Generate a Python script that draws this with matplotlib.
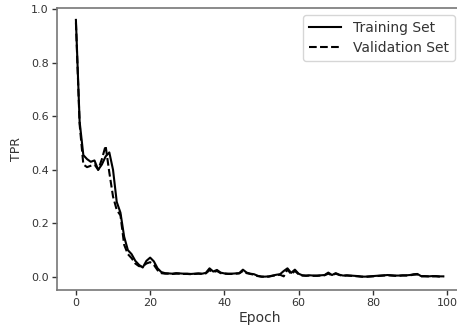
import numpy as np
from matplotlib import pyplot as plt

# TPR per epoch
train_tpr = [0.96, 0.58, 0.455, 0.44, 0.43, 0.435, 0.40, 0.42, 0.45, 0.465,
             0.40, 0.28, 0.24, 0.15, 0.10, 0.085, 0.06, 0.045, 0.035, 0.06,
             0.072, 0.058, 0.032, 0.018, 0.014, 0.013, 0.012, 0.014, 0.013, 0.012,
             0.012, 0.011, 0.012, 0.013, 0.012, 0.015, 0.032, 0.02, 0.026, 0.016,
             0.013, 0.012, 0.012, 0.013, 0.014, 0.027, 0.016, 0.012, 0.010, 0.004,
             0.001, 0.001, 0.002, 0.005, 0.008, 0.010, 0.022, 0.032, 0.015, 0.027,
             0.012, 0.006, 0.005, 0.006, 0.005, 0.005, 0.006, 0.007, 0.016, 0.007,
             0.014, 0.008, 0.005, 0.006, 0.005, 0.004, 0.003, 0.001, 0.001, 0.002,
             0.003, 0.004, 0.005, 0.006, 0.007, 0.006, 0.005, 0.005, 0.006, 0.006,
             0.007, 0.010, 0.011, 0.003, 0.003, 0.002, 0.003, 0.003, 0.002, 0.002]
val_tpr = [0.95, 0.57, 0.42, 0.41, 0.415, 0.42, 0.40, 0.44, 0.49, 0.39,
           0.30, 0.25, 0.23, 0.12, 0.085, 0.07, 0.05, 0.04, 0.04, 0.05,
           0.055, 0.045, 0.025, 0.014, 0.012, 0.012, 0.011, 0.012, 0.012, 0.011,
           0.011, 0.010, 0.011, 0.012, 0.011, 0.013, 0.025, 0.018, 0.022, 0.014,
           0.012, 0.011, 0.011, 0.012, 0.013, 0.022, 0.014, 0.011, 0.008, 0.003,
           0.001, 0.000, 0.001, 0.004, 0.006, 0.008, 0.002, 0.028, 0.010, 0.022,
           0.010, 0.005, 0.004, 0.005, 0.004, 0.004, 0.005, 0.006, 0.012, 0.006,
           0.012, 0.007, 0.004, 0.005, 0.004, 0.003, 0.002, 0.001, 0.000, 0.001,
           0.002, 0.003, 0.004, 0.005, 0.006, 0.005, 0.004, 0.004, 0.005, 0.005,
           0.006, 0.008, 0.009, 0.002, 0.002, 0.002, 0.002, 0.002, 0.001, 0.001]
epochs = np.arange(len(train_tpr))

text_color = '#333333'
spine_color = '#777777'

fig = plt.figure(figsize=(4.57, 3.29), dpi=100)
# the reference is cropped on the right, so the axes run past the edge
ax = fig.add_axes([0.1247, 0.1185, 0.886, 0.856])

ax.plot(epochs, train_tpr, color='black', linewidth=1.5, label='Training Set')
ax.plot(epochs, val_tpr, color='black', linewidth=1.5, linestyle='--', label='Validation Set')

ax.set_ylim(-0.049, 1.003)
ax.set_xlim(-5.1, 104)
ax.set_xticks([0, 20, 40, 60, 80, 100])
ax.set_yticks([0.0, 0.2, 0.4, 0.6, 0.8, 1.0])

ax.set_xlabel('Epoch', fontsize=10, color=text_color, labelpad=2)
ax.set_ylabel('TPR', fontsize=9, color=text_color, labelpad=6)
ax.tick_params(labelsize=8, colors=text_color, length=3.5, width=1, pad=2.5)
for side in ax.spines.values():
    side.set_color(spine_color)
    side.set_linewidth(1.2)
ax.spines['right'].set_visible(False)

leg = ax.legend(loc='upper right', fontsize=10, handlelength=2.3, handletextpad=0.9,
                borderaxespad=0.5, labelspacing=0.45, borderpad=0.4)
for t in leg.get_texts():
    t.set_color(text_color)

fig.savefig('out.png', dpi=100)
